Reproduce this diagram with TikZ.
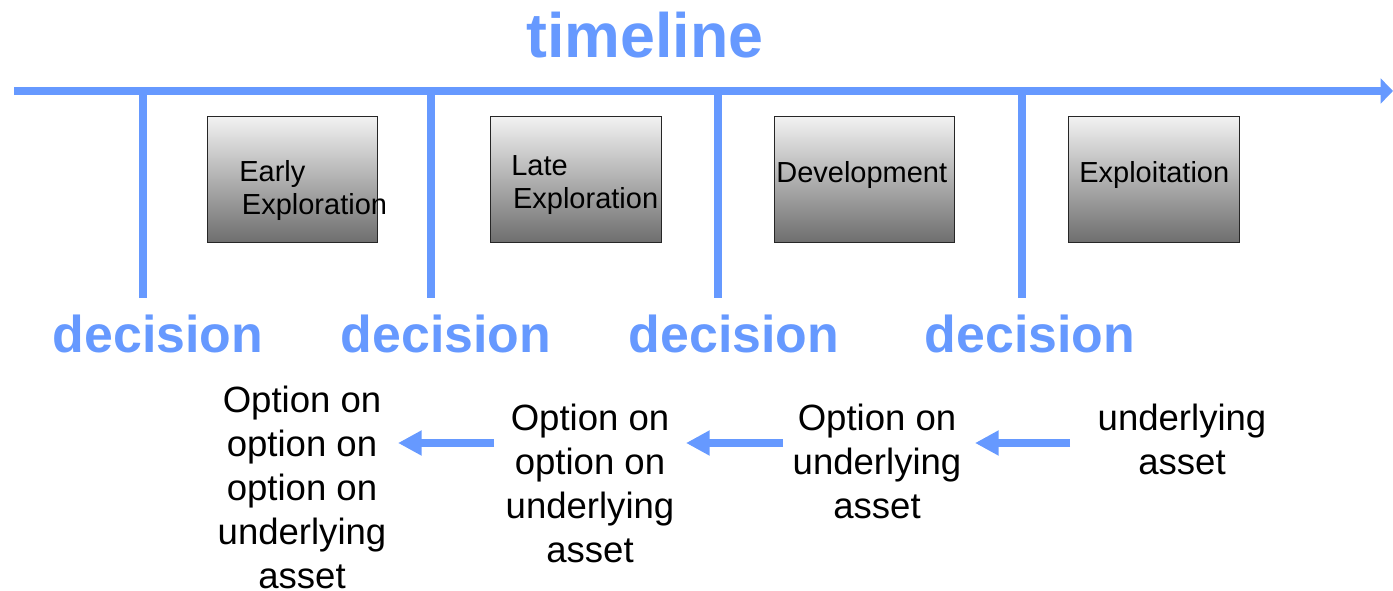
\documentclass[tikz,border=0pt]{standalone}
\usepackage{fontspec}
\setmainfont{Liberation Sans}
\usetikzlibrary{arrows.meta,calc}
\definecolor{lineblue}{RGB}{102,153,255}
\tikzset{
  bar/.style={lineblue,line width=4pt},
  phasebox/.style={draw=black!85,line width=0.6pt,top color=black!5,bottom color=black!57,minimum width=97pt,minimum height=72pt,inner sep=0pt},
  phasetext/.style={font=\fontsize{16.5}{19.3}\selectfont,align=left,anchor=base west,inner sep=0pt},
  dectext/.style={lineblue,font=\fontsize{29.5}{30}\selectfont\bfseries,anchor=base,inner sep=0pt},
  optext/.style={font=\fontsize{20.8}{25}\selectfont,align=center,anchor=base,inner sep=0pt}
}

\begin{document}
\begin{tikzpicture}[x=0.02cm,y=-0.02cm,line join=miter]
  \useasboundingbox (0,0) rectangle (1393,591);
  % timeline
  \coordinate (L0) at (14,91); \coordinate (L1) at (1393,91);
  \draw[bar,-{Triangle[length=7pt,width=14pt]}] (L0) -- (L1);
  \node[dectext,font=\fontsize{35.7}{36}\selectfont\bfseries] (title) at (645,58) {timeline};
  % decision ticks
  \foreach \x/\n in {143/1,431/2,718/3,1022/4} {
    \coordinate (t\n) at (\x,91); \coordinate (b\n) at (\x,298);
    \draw[bar] (t\n) -- (b\n);
  }
  \node[dectext] (dec1) at (158,352) {decision};
  \node[dectext] (dec2) at (446,352) {decision};
  \node[dectext] (dec3) at (734,352) {decision};
  \node[dectext] (dec4) at (1030,352) {decision};
  % phases (base anchor sits on the last line)
  \node[phasebox] (early) at (292.5,179.5) {};
  \node[phasebox] (late) at (576,179.5) {};
  \node[phasebox,minimum width=102.5pt] (devel) at (864.5,179.5) {};
  \node[phasebox] (exploit) at (1154,179.5) {};
  \node[phasetext] (earlytxt) at (239,215) {Early\\\hspace*{1.5pt}Exploration};
  \node[phasetext] (latetxt) at (511,209) {Late\\\hspace*{1pt}Exploration};
  \node[phasetext] (develtxt) at (776,183) {Development};
  \node[phasetext] (exploittxt) at (1079,183) {Exploitation};
  % options
  \node[optext] (opt1) at (302,588) {Option on\\option on\\option on\\underlying\\asset};
  \node[optext] (opt2) at (590,562) {Option on\\option on\\underlying\\asset};
  \node[optext] (opt3) at (877,518) {Option on\\underlying\\asset};
  \node[optext] (opt4) at (1182,474) {underlying\\asset};
  \foreach \a/\b in {494/398,783/686,1070/975} {
    \coordinate (s\a) at (\a,443); \coordinate (e\a) at (\b,443);
    \draw[bar,-{Triangle[length=13.5pt,width=13.5pt]}] (s\a) -- (e\a);
  }
\end{tikzpicture}
\end{document}
